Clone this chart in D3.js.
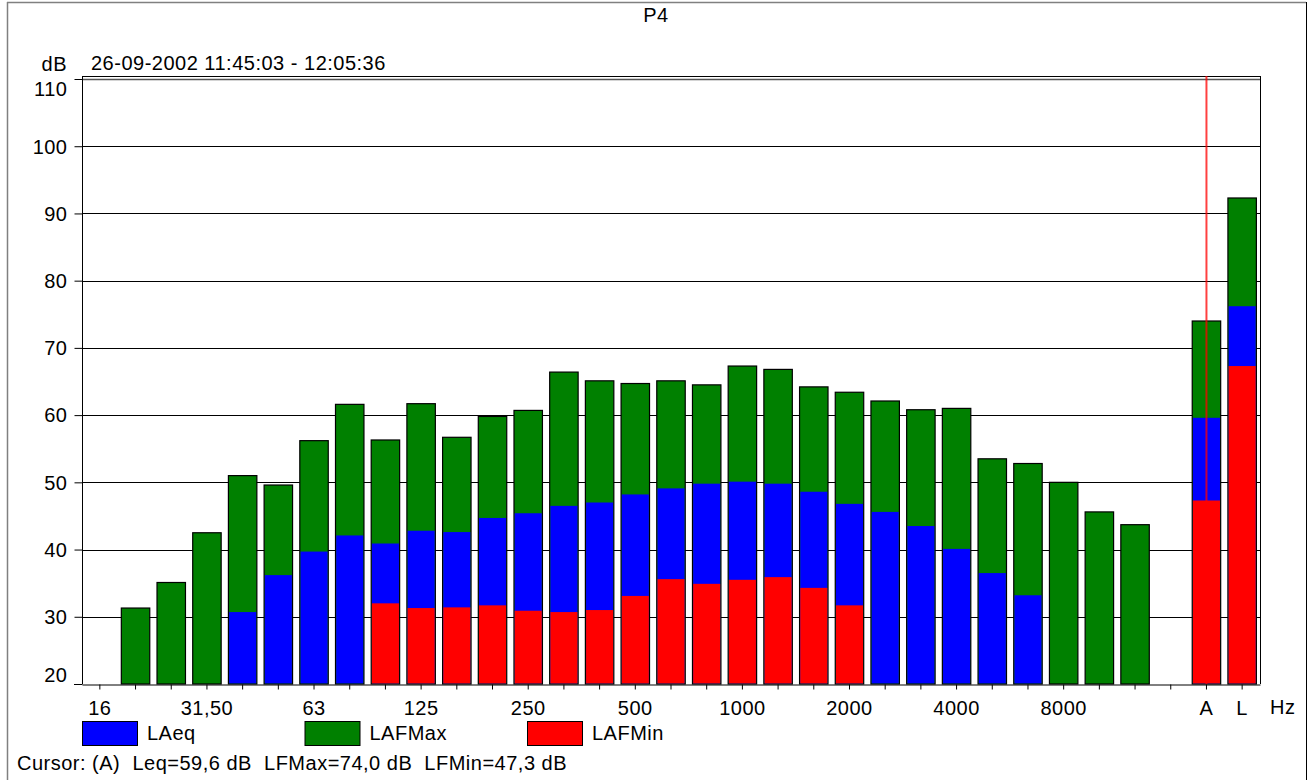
<!DOCTYPE html>
<html>
<head>
<meta charset="utf-8">
<script src="https://cdn.jsdelivr.net/npm/d3@7"></script>
<style>
  html, body { margin: 0; padding: 0; background: #fff; }
  svg { display: block; }
  text { font-family: "Liberation Sans", Arial, sans-serif; font-size: 20px; letter-spacing: 0.5px; fill: #000; }
</style>
</head>
<body>
<svg id="chart" width="1313" height="780"></svg>
<script>
// ---- Data ----
const categories = ["16","20","25","31.5","40","50","63","80","100","125","160","200","250","315","400","500","630","800","1000","1250","1600","2000","2500","3150","4000","5000","6300","8000","10000","12500","16000","A","L"];
const tickLabels = {"16":"16","31.5":"31,50","63":"63","125":"125","250":"250","500":"500","1000":"1000","2000":"2000","4000":"4000","8000":"8000","A":"A","L":"L"};
const LAFMax = [null,31.3,35.1,42.5,51.0,49.6,56.2,61.6,56.3,61.7,56.7,59.8,60.7,66.4,65.1,64.7,65.1,64.5,67.3,66.8,64.2,63.4,62.1,60.8,61.0,53.5,52.8,50.0,45.6,43.7,null,74.0,92.3];
const LAeq   = [null,null,null,null,30.7,36.2,39.7,42.1,40.9,42.8,42.6,44.7,45.4,46.5,47.0,48.2,49.1,49.8,50.1,49.8,48.6,46.8,45.6,43.5,40.1,36.5,33.2,null,null,null,null,59.6,76.2];
const LAFMin = [null,null,null,null,null,null,null,null,32.0,31.3,31.4,31.7,30.9,30.7,31.0,33.1,35.6,34.9,35.5,35.9,34.3,31.7,null,null,null,null,null,null,null,null,null,47.3,67.3];
const yTicks = [20,30,40,50,60,70,80,90,100,110];
const seriesNames = ["LAeq","LAFMax","LAFMin"];
const seriesColors = {LAeq:"#0000ff", LAFMax:"#008000", LAFMin:"#ff0000"};
const title = "P4";
const subtitle = "26-09-2002 11:45:03 - 12:05:36";
const yUnit = "dB";
const xUnit = "Hz";
const cursorCategory = "A";
const cursorText = "Cursor: (A)\u00a0\u00a0Leq=59,6 dB\u00a0\u00a0LFMax=74,0 dB\u00a0\u00a0LFMin=47,3 dB";

// ---- Layout ----
const svg = d3.select("#chart");
const L = 82, R = 1260, T = 79, B = 684;

const x = d3.scaleBand().domain(categories).range([L, R]).paddingInner(0.175).paddingOuter(0.0875);
const y = d3.scaleLinear().domain([20, 110]).range([B, T]);

// outer frame
svg.append("line").attr("x1", 7.5).attr("x2", 7.5).attr("y1", 2).attr("y2", 780).attr("stroke", "#808080").attr("stroke-width", 1.5);
svg.append("line").attr("x1", 7).attr("x2", 1306).attr("y1", 2.5).attr("y2", 2.5).attr("stroke", "#808080").attr("stroke-width", 1.5);
svg.append("line").attr("x1", 1306.5).attr("x2", 1306.5).attr("y1", 2).attr("y2", 780).attr("stroke", "#000").attr("stroke-width", 1);

// title & header texts
svg.append("text").attr("x", 656).attr("y", 22).attr("text-anchor", "middle").text(title);
svg.append("text").attr("x", 67).attr("y", 71).attr("text-anchor", "end").text(yUnit);
svg.append("text").attr("x", 91).attr("y", 70).text(subtitle);

// grid lines
svg.append("g").selectAll("line").data(yTicks.filter(d => d > 20)).join("line")
  .attr("x1", L).attr("x2", R)
  .attr("y1", d => Math.round(y(d)) + 0.5).attr("y2", d => Math.round(y(d)) + 0.5)
  .attr("stroke", d => d === 110 ? "#555" : "#000")
  .attr("stroke-width", d => d === 110 ? 1.5 : 1);

// bars: LAFMax (outlined), then LAeq, then LAFMin overlaid
const idx = d3.range(categories.length);
svg.append("g").selectAll("rect").data(idx.filter(i => LAFMax[i] != null)).join("rect")
  .attr("x", i => x(categories[i]) + 0.5)
  .attr("width", x.bandwidth() - 1)
  .attr("y", i => y(LAFMax[i]))
  .attr("height", i => y(20) - y(LAFMax[i]))
  .attr("fill", seriesColors.LAFMax)
  .attr("stroke", "#000").attr("stroke-width", 1.2);

function overlay(values, color) {
  svg.append("g").selectAll("rect").data(idx.filter(i => values[i] != null)).join("rect")
    .attr("x", i => x(categories[i]) + 1.2)
    .attr("width", x.bandwidth() - 2.4)
    .attr("y", i => y(values[i]))
    .attr("height", i => y(20) - y(values[i]) - 0.6)
    .attr("fill", color);
}
overlay(LAeq, seriesColors.LAeq);
overlay(LAFMin, seriesColors.LAFMin);

// plot border (top, left, right)
svg.append("line").attr("x1", L).attr("x2", R).attr("y1", 76.5).attr("y2", 76.5).attr("stroke", "#000");
svg.append("line").attr("x1", L + 0.5).attr("x2", L + 0.5).attr("y1", 76).attr("y2", B).attr("stroke", "#000");
svg.append("line").attr("x1", R + 0.5).attr("x2", R + 0.5).attr("y1", 76).attr("y2", B).attr("stroke", "#000");

// y axis
const yAxis = svg.append("g").attr("transform", `translate(${L + 0.5},0)`)
  .call(d3.axisLeft(y).tickValues(yTicks).tickSize(8).tickPadding(7).tickFormat(d3.format("d")));
yAxis.select(".domain").remove();
yAxis.selectAll(".tick line").attr("stroke", "#000");
yAxis.selectAll(".tick text")
  .attr("font-size", null).attr("font-family", null)
  .attr("dy", d => d === 110 ? "0.82em" : d === 20 ? "-0.15em" : "0.34em");

// x axis
const xAxis = svg.append("g").attr("transform", `translate(0,${B + 0.5})`)
  .call(d3.axisBottom(x).tickSize(5).tickPadding(11).tickSizeOuter(0).tickFormat(d => tickLabels[d] || ""));
xAxis.select(".domain").attr("stroke", "#000");
xAxis.selectAll(".tick line").attr("stroke", "#000");
xAxis.selectAll(".tick text").attr("font-size", null).attr("font-family", null);
svg.append("line").attr("x1", 74).attr("x2", L).attr("y1", B + 0.5).attr("y2", B + 0.5).attr("stroke", "#000");
svg.append("text").attr("x", 1270).attr("y", 714).text(xUnit);

// cursor line
const cx = x(cursorCategory) + x.bandwidth() / 2;
svg.append("line").attr("x1", cx).attr("x2", cx).attr("y1", 76).attr("y2", B)
  .attr("stroke", "#ff0000").attr("stroke-opacity", 0.75).attr("stroke-width", 2);

// legend
const legend = svg.append("g").selectAll("g").data(seriesNames).join("g")
  .attr("transform", (d, i) => `translate(${82 + i * 222.5},721)`);
legend.append("rect").attr("x", 0.5).attr("y", 0.5).attr("width", 55).attr("height", 24)
  .attr("fill", d => seriesColors[d]).attr("stroke", "#000");
legend.append("text").attr("x", 65).attr("y", 19).text(d => d);

// cursor readout
svg.append("text").attr("x", 17).attr("y", 770).text(cursorText);
</script>
</body>
</html>
